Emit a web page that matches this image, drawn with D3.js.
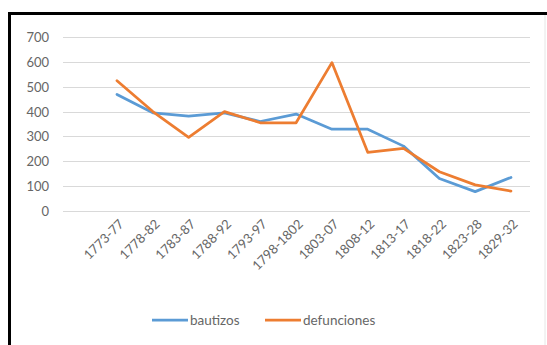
<!DOCTYPE html>
<html><head><meta charset="utf-8">
<script src="https://cdn.jsdelivr.net/npm/d3@7"></script>
<style>body{margin:0;background:#fff}svg{display:block}text{font-family:Lato,"Open Sans",sans-serif}</style>
</head><body>
<script>
const categories = ["1773-77","1778-82","1783-87","1788-92","1793-97","1798-1802","1803-07","1808-12","1813-17","1818-22","1823-28","1829-32"];
const bautizos = [469, 395, 382, 395, 360, 390, 329, 329, 261, 131, 78, 135];
const defunciones = [524, 400, 296, 400, 355, 355, 597, 236, 252, 158, 105, 80];
const yTicks = [0,100,200,300,400,500,600,700];
const seriesNames = ["bautizos","defunciones"];
const colors = ["#5B9BD5","#ED7D31"];

const W = 547, H = 345;
const svg = d3.select("body").append("svg").attr("width", W).attr("height", H);

// frame
svg.append("line").attr("x1",545).attr("x2",545).attr("y1",15).attr("y2",H).attr("stroke","#e6e6e6").attr("stroke-width",1);
svg.append("path").attr("d","M9.5,345 V13.5 H547").attr("fill","none").attr("stroke","#000").attr("stroke-width",3);

const x = d3.scalePoint().domain(categories).range([117, 511]);
const y = d3.scaleLinear().domain([0,700]).range([211, 37]);

// gridlines
svg.append("g").selectAll("line").data(yTicks).join("line")
  .attr("x1",63).attr("x2",530).attr("y1",d=>Math.round(y(d))+0.5).attr("y2",d=>Math.round(y(d))+0.5)
  .attr("stroke","#d9d9d9").attr("stroke-width",1);

// y axis labels
const yAxis = d3.axisLeft(y).tickValues(yTicks).tickSize(0).tickPadding(0);
const gy = svg.append("g").attr("transform","translate(49,0)").call(yAxis);
gy.select(".domain").remove();
gy.selectAll("text").attr("fill","#666").style("font-size","13px").attr("dy","0.35em");

// x axis labels
const xAxis = d3.axisBottom(x).tickSize(0).tickPadding(0);
const gx = svg.append("g").attr("transform","translate(0,222)").call(xAxis);
gx.select(".domain").remove();
gx.selectAll("text").attr("fill","#666").style("font-size","13px")
  .attr("text-anchor","end").attr("dy","0.7em").attr("dx","0")
  .attr("transform","rotate(-45) translate(3,-2)");

// lines
const line = d3.line().x((d,i)=>x(categories[i])).y(d=>y(d));
[bautizos, defunciones].forEach((s,k)=>{
  svg.append("path").datum(s).attr("d",line).attr("fill","none")
    .attr("stroke",colors[k]).attr("stroke-width",2.75).attr("stroke-linejoin","round").attr("stroke-linecap","round");
});

// legend
const legX = [152, 265];
seriesNames.forEach((n,k)=>{
  svg.append("line").attr("x1",legX[k]).attr("x2",legX[k]+36).attr("y1",320).attr("y2",320)
    .attr("stroke",colors[k]).attr("stroke-width",2.75);
  svg.append("text").attr("x",legX[k]+38).attr("y",320).attr("dy","0.35em")
    .attr("fill","#666").style("font-size","13.5px").text(n);
});
</script>
</body></html>
